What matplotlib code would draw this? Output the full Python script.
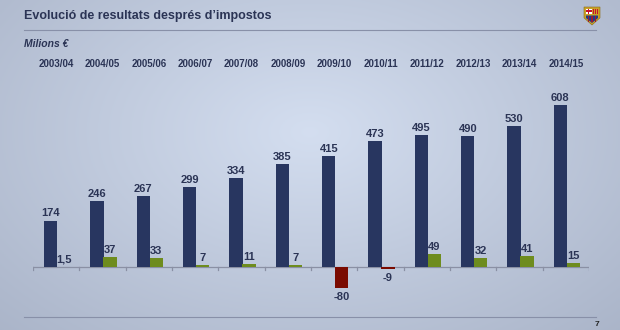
import numpy as np
import matplotlib
matplotlib.use("Agg")
import matplotlib.pyplot as plt
from matplotlib.patches import Rectangle, Polygon

seasons = ["2003/04", "2004/05", "2005/06", "2006/07", "2007/08", "2008/09",
           "2009/10", "2010/11", "2011/12", "2012/13", "2013/14", "2014/15"]
revenue = [174, 246, 267, 299, 334, 385, 415, 473, 495, 490, 530, 608]
profit = [1.5, 37, 33, 7, 11, 7, -80, -9, 49, 32, 41, 15]
profit_labels = ["1,5", "37", "33", "7", "11", "7", "-80", "-9", "49", "32", "41", "15"]

W, H = 620, 330
fig = plt.figure(figsize=(W / 100, H / 100), dpi=100)

# background gradient
bg = fig.add_axes([0, 0, 1, 1])
yy, xx = np.mgrid[0:1:200j, 0:1:300j]
r = np.sqrt(((xx - 0.5) / 0.75) ** 2 + ((yy - 0.4) / 0.9) ** 2)
t = np.clip(r, 0, 1)
c_in = np.array([0.83, 0.87, 0.94])
c_out = np.array([0.66, 0.70, 0.78])
img = c_in[None, None, :] * (1 - t[..., None]) + c_out[None, None, :] * t[..., None]
bg.imshow(img, extent=[0, 1, 0, 1], aspect="auto", origin="upper")
bg.set_xlim(0, 1)
bg.set_ylim(0, 1)
bg.axis("off")

txt = "#2b3455"
font = "Liberation Sans"

def fx(px):
    return px / W

def fy(py):
    return 1 - py / H

fig.text(fx(24), fy(16), "Evolució de resultats després d\u2019impostos", fontsize=9,
         fontweight="bold", color=txt, family=font, va="center", ha="left")
fig.add_artist(plt.Line2D([fx(24), fx(596)], [fy(30), fy(30)], color="#8890a8", lw=0.8))
fig.text(fx(24), fy(44), "Milions \u20ac", fontsize=7.5, fontweight="bold", style="italic",
         color=txt, family=font, va="center", ha="left")
fig.add_artist(plt.Line2D([fx(24), fx(596)], [fy(317), fy(317)], color="#8890a8", lw=0.8))
fig.text(fx(597), fy(325), "7", fontsize=6, fontweight="bold", color="#222", family=font,
         va="center", ha="center")

# logo (simplified crest)
lx, ly, lw, lh = 584, 7, 16, 18
def P(x, y):
    return (fx(lx + x), fy(ly + y))
shield = Polygon([P(0, 0), P(lw, 0), P(lw, lh * 0.6), P(lw / 2, lh), P(0, lh * 0.6)],
                 closed=True, transform=fig.transFigure, facecolor="#c9a227", edgecolor="#8a6a10", lw=0.4)
fig.add_artist(shield)
fig.add_artist(Rectangle(P(1.5, 6.5), fx(6) - fx(0), fy(0) - fy(5), transform=fig.transFigure,
                         facecolor="white", edgecolor="none"))
fig.add_artist(Rectangle(P(4, 6.5), fx(1.2) - fx(0), fy(0) - fy(5), transform=fig.transFigure,
                         facecolor="#c8102e", edgecolor="none"))
fig.add_artist(Rectangle(P(1.5, 4.5), fx(6) - fx(0), fy(0) - fy(1.2), transform=fig.transFigure,
                         facecolor="#c8102e", edgecolor="none"))
for k in range(3):
    fig.add_artist(Rectangle(P(8.5 + k * 2.2, 6.5), fx(1.1) - fx(0), fy(0) - fy(5),
                             transform=fig.transFigure, facecolor="#c8102e", edgecolor="none"))
bottom = Polygon([P(2, 8.5), P(14, 8.5), P(14, 11), P(8, 16), P(2, 11)], closed=True,
                 transform=fig.transFigure, facecolor="#1f3c8a", edgecolor="none")
fig.add_artist(bottom)
for k in range(3):
    fig.add_artist(Rectangle(P(3.5 + k * 3.5, 14.5), fx(1.6) - fx(0), fy(0) - fy(5.5),
                             transform=fig.transFigure, facecolor="#9b1b30", edgecolor="none"))

# main axes
ymin, ymax = -100, 640
pxu = 0.2665
base_from_bottom = H - 267
ax_bottom = base_from_bottom + ymin * pxu
ax_h = (ymax - ymin) * pxu
ax = fig.add_axes([33 / W, ax_bottom / H, 556 / W, ax_h / H])
ax.set_xlim(-0.5, 11.5)
ax.set_ylim(ymin, ymax)
ax.axis("off")

x = np.arange(len(seasons))
bw = 0.285
bx = x - 0.26 + bw / 2
gx = x + 0.02 + bw / 2
ax.bar(bx, revenue, width=bw, color="#283660", edgecolor="none", zorder=3)
gcol = ["#6e8c1e" if v >= 0 else "#7a0a00" for v in profit]
ax.bar(gx, profit, width=bw, color=gcol, edgecolor="none", zorder=3)

ax.axhline(0, color="#8a90a4", lw=0.9, xmin=0, xmax=1, zorder=2)
for b in np.arange(-0.5, 12, 1):
    ax.plot([b, b], [0, -10], color="#8a90a4", lw=0.9, zorder=2)

for xi, v in zip(bx, revenue):
    ax.text(xi, v + 8, str(v), ha="center", va="bottom", fontsize=8, fontweight="bold",
            color=txt, family=font)
for i, (xi, v, lab) in enumerate(zip(gx, profit, profit_labels)):
    if v >= 0:
        ax.text(xi, v + 8, lab, ha="center", va="bottom", fontsize=8, fontweight="bold",
                color=txt, family=font)
    else:
        ax.text(xi, v - 14, lab, ha="center", va="top", fontsize=8, fontweight="bold",
                color=txt, family=font)

for xi, s in zip(x, seasons):
    fig.text(fx(33 + (xi + 0.5) * 556 / 12), fy(64), s, ha="center", va="center",
             fontsize=7, fontweight="bold", color=txt, family=font)

fig.savefig("out.png", dpi=100)
